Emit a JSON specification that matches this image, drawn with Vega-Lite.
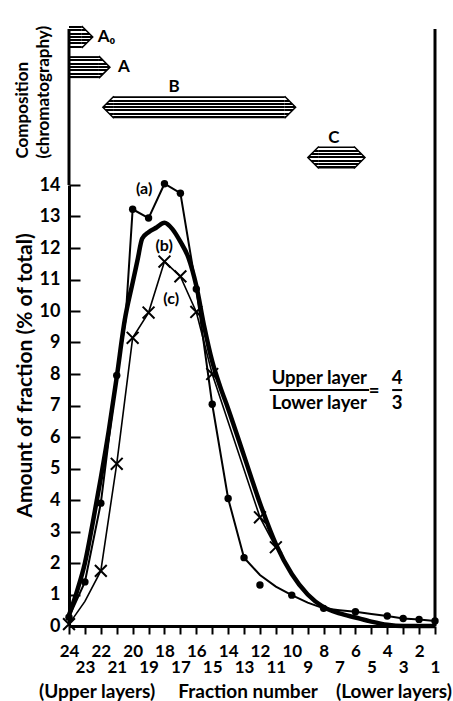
{
  "$schema": "https://vega.github.io/schema/vega-lite/v6.json",
  "autosize": {"type": "pad"},
  "padding": {"left": 12, "top": 23, "right": 0, "bottom": 0},
  "background": "white",
  "spacing": 0,
  "bounds": "flush",
  "config": {
    "view": {"stroke": null},
    "font": "Lato",
    "text": {"font": "Lato", "fontWeight": "bold", "color": "black"},
    "axis": {"labelFont": "Lato", "titleFont": "Lato", "labelColor": "black", "titleColor": "black", "domainColor": "black", "tickColor": "black", "grid": false}
  },
  "datasets": {
    "composition": [
      {"component": "A0", "from": 24, "to": 23.2},
      {"component": "A", "from": 24, "to": 22.12},
      {"component": "B", "from": 21.18, "to": 10.45},
      {"component": "C", "from": 8.3, "to": 6.09}
    ],
    "composition_labels": [
      {"text": "A₀", "component": "A0", "fraction": 22.19, "side": "right"},
      {"text": "A", "component": "A", "fraction": 20.92, "side": "right"},
      {"text": "B", "component": "B", "fraction": 17.39, "side": "top"},
      {"text": "C", "component": "C", "fraction": 7.36, "side": "top"}
    ],
    "measured": [
      {"curve": "a", "fraction": 24, "amount": 0.28},
      {"curve": "a", "fraction": 23, "amount": 1.4},
      {"curve": "a", "fraction": 22, "amount": 3.9},
      {"curve": "a", "fraction": 21, "amount": 7.95},
      {"curve": "a", "fraction": 20, "amount": 13.23},
      {"curve": "a", "fraction": 19, "amount": 12.95},
      {"curve": "a", "fraction": 18, "amount": 14.04},
      {"curve": "a", "fraction": 17, "amount": 13.74},
      {"curve": "a", "fraction": 16, "amount": 10.7},
      {"curve": "a", "fraction": 15, "amount": 7.04},
      {"curve": "a", "fraction": 14, "amount": 4.05},
      {"curve": "a", "fraction": 13, "amount": 2.17},
      {"curve": "a", "fraction": 12, "amount": 1.3},
      {"curve": "a", "fraction": 10, "amount": 0.98},
      {"curve": "a", "fraction": 8, "amount": 0.56},
      {"curve": "a", "fraction": 6, "amount": 0.45},
      {"curve": "a", "fraction": 4, "amount": 0.32},
      {"curve": "a", "fraction": 3, "amount": 0.24},
      {"curve": "a", "fraction": 2, "amount": 0.21},
      {"curve": "a", "fraction": 1, "amount": 0.16},
      {"curve": "c", "fraction": 24, "amount": 0.06},
      {"curve": "c", "fraction": 22, "amount": 1.75},
      {"curve": "c", "fraction": 21, "amount": 5.15},
      {"curve": "c", "fraction": 20, "amount": 9.15},
      {"curve": "c", "fraction": 19, "amount": 9.95},
      {"curve": "c", "fraction": 18, "amount": 11.57},
      {"curve": "c", "fraction": 17, "amount": 11.1},
      {"curve": "c", "fraction": 16, "amount": 9.97},
      {"curve": "c", "fraction": 15, "amount": 8.0},
      {"curve": "c", "fraction": 12, "amount": 3.45},
      {"curve": "c", "fraction": 11, "amount": 2.5}
    ],
    "drawn": [
      {"curve": "a", "fraction": 24, "amount": 0.28},
      {"curve": "a", "fraction": 23, "amount": 1.4},
      {"curve": "a", "fraction": 22, "amount": 3.9},
      {"curve": "a", "fraction": 21, "amount": 7.95},
      {"curve": "a", "fraction": 20.45, "amount": 9.7},
      {"curve": "a", "fraction": 20, "amount": 13.23},
      {"curve": "a", "fraction": 19, "amount": 12.95},
      {"curve": "a", "fraction": 18, "amount": 14.04},
      {"curve": "a", "fraction": 17, "amount": 13.74},
      {"curve": "a", "fraction": 16, "amount": 10.7},
      {"curve": "a", "fraction": 15, "amount": 7.04},
      {"curve": "a", "fraction": 14, "amount": 4.05},
      {"curve": "a", "fraction": 13, "amount": 2.17},
      {"curve": "a", "fraction": 12, "amount": 1.62},
      {"curve": "a", "fraction": 11, "amount": 1.25},
      {"curve": "a", "fraction": 10, "amount": 0.98},
      {"curve": "a", "fraction": 9, "amount": 0.74},
      {"curve": "a", "fraction": 8, "amount": 0.56},
      {"curve": "a", "fraction": 7, "amount": 0.5},
      {"curve": "a", "fraction": 6, "amount": 0.45},
      {"curve": "a", "fraction": 5, "amount": 0.38},
      {"curve": "a", "fraction": 4, "amount": 0.32},
      {"curve": "a", "fraction": 3, "amount": 0.24},
      {"curve": "a", "fraction": 2, "amount": 0.21},
      {"curve": "a", "fraction": 1, "amount": 0.16},
      {"curve": "b", "fraction": 24, "amount": 0.35},
      {"curve": "b", "fraction": 23.5, "amount": 1.1},
      {"curve": "b", "fraction": 23, "amount": 2.0},
      {"curve": "b", "fraction": 22.5, "amount": 3.3},
      {"curve": "b", "fraction": 22, "amount": 4.7},
      {"curve": "b", "fraction": 21.5, "amount": 6.2},
      {"curve": "b", "fraction": 21, "amount": 7.9},
      {"curve": "b", "fraction": 20.5, "amount": 9.7},
      {"curve": "b", "fraction": 20, "amount": 10.9},
      {"curve": "b", "fraction": 19.7, "amount": 11.6},
      {"curve": "b", "fraction": 19.4, "amount": 12.3},
      {"curve": "b", "fraction": 19, "amount": 12.5},
      {"curve": "b", "fraction": 18.5, "amount": 12.65},
      {"curve": "b", "fraction": 18, "amount": 12.8},
      {"curve": "b", "fraction": 17.5, "amount": 12.6},
      {"curve": "b", "fraction": 17, "amount": 12.2},
      {"curve": "b", "fraction": 16.5, "amount": 11.7},
      {"curve": "b", "fraction": 16, "amount": 10.8},
      {"curve": "b", "fraction": 15.5, "amount": 9.5},
      {"curve": "b", "fraction": 15, "amount": 8.4},
      {"curve": "b", "fraction": 14.5, "amount": 7.6},
      {"curve": "b", "fraction": 14, "amount": 6.9},
      {"curve": "b", "fraction": 13, "amount": 5.4},
      {"curve": "b", "fraction": 12, "amount": 3.9},
      {"curve": "b", "fraction": 11, "amount": 2.6},
      {"curve": "b", "fraction": 10, "amount": 1.65},
      {"curve": "b", "fraction": 9, "amount": 1.0},
      {"curve": "b", "fraction": 8, "amount": 0.6},
      {"curve": "b", "fraction": 7, "amount": 0.4},
      {"curve": "b", "fraction": 6, "amount": 0.27},
      {"curve": "b", "fraction": 5, "amount": 0.14},
      {"curve": "b", "fraction": 4, "amount": 0.04},
      {"curve": "b", "fraction": 3, "amount": 0},
      {"curve": "b", "fraction": 2, "amount": 0},
      {"curve": "b", "fraction": 1, "amount": 0},
      {"curve": "c", "fraction": 24, "amount": 0.06},
      {"curve": "c", "fraction": 23, "amount": 0.78},
      {"curve": "c", "fraction": 22, "amount": 1.75},
      {"curve": "c", "fraction": 21, "amount": 5.15},
      {"curve": "c", "fraction": 20, "amount": 9.15},
      {"curve": "c", "fraction": 19, "amount": 9.95},
      {"curve": "c", "fraction": 18, "amount": 11.57},
      {"curve": "c", "fraction": 17, "amount": 11.1},
      {"curve": "c", "fraction": 16, "amount": 9.97},
      {"curve": "c", "fraction": 15, "amount": 8.0},
      {"curve": "c", "fraction": 12, "amount": 3.45},
      {"curve": "c", "fraction": 11, "amount": 2.5}
    ],
    "curve_labels": [
      {"text": "(a)", "fraction": 19.28, "amount": 13.87},
      {"text": "(b)", "fraction": 18.02, "amount": 12.06},
      {"text": "(c)", "fraction": 17.58, "amount": 10.38}
    ],
    "ratio_text": [
      {"text": "Upper layer", "fraction": 8.27, "amount": 7.87},
      {"text": "Lower layer", "fraction": 8.27, "amount": 7.08},
      {"text": "=", "fraction": 4.83, "amount": 7.45},
      {"text": "4", "fraction": 3.38, "amount": 7.87},
      {"text": "3", "fraction": 3.38, "amount": 7.08}
    ],
    "ratio_bars": [
      {"fraction": 11.39, "fraction_end": 5.14, "amount": 7.49},
      {"fraction": 3.69, "fraction_end": 3.06, "amount": 7.49}
    ],
    "borders": [
      {"fraction": 24},
      {"fraction": 1}
    ]
  },
  "vconcat": [
    {
      "width": 366,
      "height": 156,
      "layer": [
        {
          "data": {"name": "composition"},
          "mark": {
            "type": "bar",
            "height": 22,
            "fill": {"gradient": "linear", "x1": 0, "y1": 0, "x2": 0, "y2": 1, "stops": [
              {"offset": 0, "color": "#000"}, {"offset": 0.09, "color": "#000"},
              {"offset": 0.09, "color": "#fff"}, {"offset": 0.15, "color": "#fff"},
              {"offset": 0.15, "color": "#000"}, {"offset": 0.24, "color": "#000"},
              {"offset": 0.24, "color": "#fff"}, {"offset": 0.30, "color": "#fff"},
              {"offset": 0.30, "color": "#000"}, {"offset": 0.39, "color": "#000"},
              {"offset": 0.39, "color": "#fff"}, {"offset": 0.45, "color": "#fff"},
              {"offset": 0.45, "color": "#000"}, {"offset": 0.54, "color": "#000"},
              {"offset": 0.54, "color": "#fff"}, {"offset": 0.60, "color": "#fff"},
              {"offset": 0.60, "color": "#000"}, {"offset": 0.69, "color": "#000"},
              {"offset": 0.69, "color": "#fff"}, {"offset": 0.75, "color": "#fff"},
              {"offset": 0.75, "color": "#000"}, {"offset": 0.84, "color": "#000"},
              {"offset": 0.84, "color": "#fff"}, {"offset": 0.90, "color": "#fff"},
              {"offset": 0.90, "color": "#000"}, {"offset": 1, "color": "#000"}
            ]}
          },
          "encoding": {
            "x": {"field": "from", "type": "quantitative", "scale": {"domain": [1, 24], "reverse": true, "nice": false, "zero": false}, "axis": null},
            "x2": {"field": "to"},
            "y": {"field": "component", "type": "nominal",
              "scale": {"type": "point", "domain": ["A0", "g1", "g2", "A", "g3", "g4", "g5", "B", "g6", "g7", "g8", "g9", "C"], "range": [8, 128.5], "padding": 0},
              "axis": {"title": ["Composition", "(chromatography)"], "titleFontSize": 17, "titleFontWeight": "bold", "titleLineHeight": 21, "titleAngle": 270, "titleAlign": "left", "titleBaseline": "top", "titleX": -55, "titleY": 129, "labels": false, "ticks": false, "domain": false}
            }
          }
        },
        {
          "data": {"name": "composition"},
          "mark": {
            "type": "point", "shape": "M0,-1L1,0L0,1", "size": 484, "filled": true, "opacity": 1, "stroke": "#000", "strokeWidth": 1.5,
            "fill": {"gradient": "linear", "x1": 0, "y1": 0, "x2": 0, "y2": 1, "stops": [
              {"offset": 0, "color": "#000"}, {"offset": 0.09, "color": "#000"},
              {"offset": 0.09, "color": "#fff"}, {"offset": 0.15, "color": "#fff"},
              {"offset": 0.15, "color": "#000"}, {"offset": 0.24, "color": "#000"},
              {"offset": 0.24, "color": "#fff"}, {"offset": 0.30, "color": "#fff"},
              {"offset": 0.30, "color": "#000"}, {"offset": 0.39, "color": "#000"},
              {"offset": 0.39, "color": "#fff"}, {"offset": 0.45, "color": "#fff"},
              {"offset": 0.45, "color": "#000"}, {"offset": 0.54, "color": "#000"},
              {"offset": 0.54, "color": "#fff"}, {"offset": 0.60, "color": "#fff"},
              {"offset": 0.60, "color": "#000"}, {"offset": 0.69, "color": "#000"},
              {"offset": 0.69, "color": "#fff"}, {"offset": 0.75, "color": "#fff"},
              {"offset": 0.75, "color": "#000"}, {"offset": 0.84, "color": "#000"},
              {"offset": 0.84, "color": "#fff"}, {"offset": 0.90, "color": "#fff"},
              {"offset": 0.90, "color": "#000"}, {"offset": 1, "color": "#000"}
            ]}
          },
          "encoding": {
            "x": {"field": "to", "type": "quantitative"},
            "y": {"field": "component", "type": "nominal"}
          }
        },
        {
          "data": {"name": "composition"},
          "transform": [{"filter": "datum.from < 24"}],
          "mark": {
            "type": "point", "shape": "M0,-1L-1,0L0,1", "size": 484, "filled": true, "opacity": 1, "stroke": "#000", "strokeWidth": 1.5,
            "fill": {"gradient": "linear", "x1": 0, "y1": 0, "x2": 0, "y2": 1, "stops": [
              {"offset": 0, "color": "#000"}, {"offset": 0.09, "color": "#000"},
              {"offset": 0.09, "color": "#fff"}, {"offset": 0.15, "color": "#fff"},
              {"offset": 0.15, "color": "#000"}, {"offset": 0.24, "color": "#000"},
              {"offset": 0.24, "color": "#fff"}, {"offset": 0.30, "color": "#fff"},
              {"offset": 0.30, "color": "#000"}, {"offset": 0.39, "color": "#000"},
              {"offset": 0.39, "color": "#fff"}, {"offset": 0.45, "color": "#fff"},
              {"offset": 0.45, "color": "#000"}, {"offset": 0.54, "color": "#000"},
              {"offset": 0.54, "color": "#fff"}, {"offset": 0.60, "color": "#fff"},
              {"offset": 0.60, "color": "#000"}, {"offset": 0.69, "color": "#000"},
              {"offset": 0.69, "color": "#fff"}, {"offset": 0.75, "color": "#fff"},
              {"offset": 0.75, "color": "#000"}, {"offset": 0.84, "color": "#000"},
              {"offset": 0.84, "color": "#fff"}, {"offset": 0.90, "color": "#fff"},
              {"offset": 0.90, "color": "#000"}, {"offset": 1, "color": "#000"}
            ]}
          },
          "encoding": {
            "x": {"field": "from", "type": "quantitative"},
            "y": {"field": "component", "type": "nominal"}
          }
        },
        {
          "data": {"name": "composition_labels"},
          "transform": [{"filter": "datum.side === 'right'"}],
          "mark": {"type": "text", "align": "left", "baseline": "middle", "fontSize": 17, "fontWeight": "bold"},
          "encoding": {
            "x": {"field": "fraction", "type": "quantitative"},
            "y": {"field": "component", "type": "nominal"},
            "text": {"field": "text"}
          }
        },
        {
          "data": {"name": "composition_labels"},
          "transform": [{"filter": "datum.side === 'top'"}],
          "mark": {"type": "text", "align": "center", "baseline": "middle", "fontSize": 17, "fontWeight": "bold", "dy": -20},
          "encoding": {
            "x": {"field": "fraction", "type": "quantitative"},
            "y": {"field": "component", "type": "nominal"},
            "text": {"field": "text"}
          }
        },
        {
          "data": {"name": "borders"},
          "mark": {"type": "rule", "stroke": "#000", "strokeWidth": 3},
          "encoding": {"x": {"field": "fraction", "type": "quantitative"}}
        }
      ]
    },
    {
      "width": 366,
      "height": 441,
      "resolve": {"axis": {"x": "independent", "y": "independent"}},
      "layer": [
        {
          "data": {"name": "drawn"},
          "transform": [{"filter": "datum.curve === 'b'"}],
          "mark": {"type": "line", "interpolate": "monotone", "stroke": "#000", "strokeWidth": 4.5, "clip": false},
          "encoding": {
            "x": {"field": "fraction", "type": "quantitative",
              "scale": {"domain": [1, 24], "reverse": true, "nice": false, "zero": false},
              "axis": {
                "orient": "bottom",
                "values": [1,2,3,4,5,6,7,8,9,10,11,12,13,14,15,16,17,18,19,20,21,22,23,24],
                "labelExpr": "datum.value % 2 === 0 ? datum.label : ''",
                "format": "d",
                "title": null,
                "ticks": true, "domain": true, "domainWidth": 3, "domainColor": "#000", "tickSize": 8, "tickWidth": 2, "tickColor": "#000",
                "labelFontSize": 17, "labelFontWeight": "bold", "labelPadding": 17, "labelBaseline": "middle",
                "labelFlush": false, "labelOverlap": false, "labelBound": false
              }
            },
            "y": {"field": "amount", "type": "quantitative",
              "scale": {"domain": [0, 14], "nice": false},
              "axis": {
                "orient": "left",
                "values": [0,1,2,3,4,5,6,7,8,9,10,11,12,13,14],
                "format": "d",
                "title": "Amount of fraction (% of total)",
                "titleFontSize": 21, "titleFontWeight": "bold", "titleAngle": 270, "titleX": -55, "titleY": 190, "titleAlign": "center", "titleBaseline": "top",
                "ticks": false, "domain": true, "domainWidth": 3, "domainColor": "#000",
                "grid": true, "gridColor": "#000", "gridWidth": 2, "gridOpacity": 1, "gridDash": [0, 355, 11, 1000],
                "labelFontSize": 18, "labelFontWeight": "bold", "labelPadding": 9, "labelAlign": "right", "labelBaseline": "middle",
                "labelFlush": false, "labelOverlap": false
              }
            }
          }
        },
        {
          "data": {"name": "drawn"},
          "transform": [{"filter": "datum.curve === 'a'"}],
          "mark": {"type": "line", "interpolate": "linear", "stroke": "#000", "strokeWidth": 2, "clip": false},
          "encoding": {
            "x": {"field": "fraction", "type": "quantitative",
              "axis": {
                "orient": "bottom",
                "values": [1,3,5,7,9,11,13,15,17,19,21,23],
                "format": "d",
                "title": "(Upper layers)\u00a0\u00a0\u00a0\u00a0\u00a0Fraction number\u00a0\u00a0\u00a0\u00a0(Lower layers)",
                "titleFontSize": 19, "titleFontWeight": "bold", "titleX": 176, "titleY": 65, "titleAlign": "center", "titleBaseline": "middle",
                "ticks": false, "domain": false,
                "labelFontSize": 17, "labelFontWeight": "bold", "labelPadding": 41, "labelBaseline": "middle",
                "labelFlush": false, "labelOverlap": false, "labelBound": false
              }
            },
            "y": {"field": "amount", "type": "quantitative", "axis": null}
          }
        },
        {
          "data": {"name": "drawn"},
          "transform": [{"filter": "datum.curve === 'c'"}],
          "mark": {"type": "line", "interpolate": "linear", "stroke": "#000", "strokeWidth": 1.6, "clip": false},
          "encoding": {
            "x": {"field": "fraction", "type": "quantitative", "axis": null},
            "y": {"field": "amount", "type": "quantitative", "axis": null}
          }
        },
        {
          "data": {"name": "measured"},
          "transform": [{"filter": "datum.curve === 'a'"}],
          "mark": {"type": "circle", "size": 55, "color": "#000", "opacity": 1, "clip": false},
          "encoding": {
            "x": {"field": "fraction", "type": "quantitative", "axis": null},
            "y": {"field": "amount", "type": "quantitative", "axis": null}
          }
        },
        {
          "data": {"name": "measured"},
          "transform": [{"filter": "datum.curve === 'c'"}],
          "mark": {"type": "point", "shape": "M-1,-1L1,1M-1,1L1,-1", "size": 140, "filled": false, "stroke": "#000", "strokeWidth": 2, "opacity": 1, "clip": false},
          "encoding": {
            "x": {"field": "fraction", "type": "quantitative", "axis": null},
            "y": {"field": "amount", "type": "quantitative", "axis": null}
          }
        },
        {
          "data": {"name": "curve_labels"},
          "mark": {"type": "text", "align": "center", "baseline": "middle", "fontSize": 16, "fontWeight": "bold"},
          "encoding": {
            "x": {"field": "fraction", "type": "quantitative", "axis": null},
            "y": {"field": "amount", "type": "quantitative", "axis": null},
            "text": {"field": "text"}
          }
        },
        {
          "data": {"name": "ratio_text"},
          "mark": {"type": "text", "align": "center", "baseline": "middle", "fontSize": 18.5, "fontWeight": "bold"},
          "encoding": {
            "x": {"field": "fraction", "type": "quantitative", "axis": null},
            "y": {"field": "amount", "type": "quantitative", "axis": null},
            "text": {"field": "text"}
          }
        },
        {
          "data": {"name": "ratio_bars"},
          "mark": {"type": "rule", "stroke": "#000", "strokeWidth": 2},
          "encoding": {
            "x": {"field": "fraction", "type": "quantitative", "axis": null},
            "x2": {"field": "fraction_end"},
            "y": {"field": "amount", "type": "quantitative", "axis": null}
          }
        },
        {
          "data": {"name": "borders"},
          "transform": [{"filter": "datum.fraction === 1"}],
          "mark": {"type": "rule", "stroke": "#000", "strokeWidth": 3},
          "encoding": {
            "x": {"field": "fraction", "type": "quantitative", "axis": null}
          }
        }
      ]
    }
  ]
}
